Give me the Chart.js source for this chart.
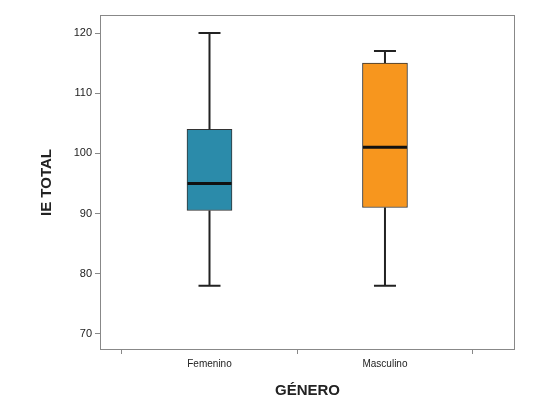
<!DOCTYPE html>
<html><head><meta charset="utf-8">
<script src="https://cdn.jsdelivr.net/npm/chart.js@4"></script>
<style>html,body{margin:0;padding:0;background:#fff}#w{width:541px;height:407px}</style>
</head><body><div id="w"><canvas id="c"></canvas></div>
<script>
const categories = ['Femenino', 'Masculino'];
const mins = [78, 78];
const q1s = [90.5, 91];
const medians = [95, 101];
const q3s = [104, 115];
const maxs = [120, 117];
const colors = ['#2B8BAA', '#F7961E'];
const yTicks = [70, 80, 90, 100, 110, 120];

const boxPlugin = {
  id: 'boxExtras',
  afterDatasetsDraw(chart) {
    const ctx = chart.ctx, x = chart.scales.x, y = chart.scales.y;
    ctx.save();
    categories.forEach((c, i) => {
      const cx = x.getPixelForValue(i);
      ctx.strokeStyle = '#222';
      ctx.lineWidth = 2;
      ctx.beginPath();
      ctx.moveTo(cx, y.getPixelForValue(q3s[i])); ctx.lineTo(cx, y.getPixelForValue(maxs[i]));
      ctx.moveTo(cx, y.getPixelForValue(q1s[i])); ctx.lineTo(cx, y.getPixelForValue(mins[i]));
      ctx.moveTo(cx - 11, y.getPixelForValue(maxs[i])); ctx.lineTo(cx + 11, y.getPixelForValue(maxs[i]));
      ctx.moveTo(cx - 11, y.getPixelForValue(mins[i])); ctx.lineTo(cx + 11, y.getPixelForValue(mins[i]));
      ctx.stroke();
      ctx.lineWidth = 3; ctx.strokeStyle = '#111';
      ctx.beginPath();
      ctx.moveTo(cx - 22, y.getPixelForValue(medians[i])); ctx.lineTo(cx + 22, y.getPixelForValue(medians[i]));
      ctx.stroke();
    });
    const a = chart.chartArea;
    ctx.lineWidth = 1; ctx.strokeStyle = '#888';
    ctx.strokeRect(a.left + 0.5, a.top + 0.5, a.right - a.left - 1, a.bottom - a.top - 1);
    ctx.restore();
  }
};

new Chart(document.getElementById('c'), {
  type: 'bar',
  data: {
    datasets: [{
      data: categories.map((c, i) => ({ x: i, y: [q1s[i], q3s[i]] })),
      backgroundColor: colors,
      borderColor: '#333',
      borderWidth: 1,
      borderSkipped: false,
      barThickness: 45
    }]
  },
  plugins: [boxPlugin],
  options: {
    responsive: true, maintainAspectRatio: false, animation: false,
    layout: { padding: { left: 38, right: 26, top: 15, bottom: 3 } },
    plugins: { legend: { display: false }, tooltip: { enabled: false } },
    scales: {
      x: {
        type: 'linear', min: -0.624, max: 1.741, offset: false,
        afterBuildTicks: s => { s.ticks = categories.map((c, i) => ({ value: i })); },
        afterFit: s => { s.height = 54; },
        ticks: { callback: v => categories[v], color: '#222', font: { family: 'Liberation Sans', size: 10 }, padding: 4 },
        grid: { display: true, drawOnChartArea: false, drawTicks: true, tickLength: 4, color: '#888' },
        border: { display: false },
        title: { display: true, text: 'GÉNERO', color: '#222', font: { family: 'Liberation Sans', size: 15, weight: 'bold' }, padding: { top: 12 } }
      },
      y: {
        min: 67.3, max: 123,
        afterBuildTicks: s => { s.ticks = yTicks.map(v => ({ value: v })); },
        afterFit: s => { s.width = 62; },
        ticks: { color: '#222', font: { family: 'Liberation Sans', size: 11 }, padding: 3 },
        grid: { display: true, drawOnChartArea: false, drawTicks: true, tickLength: 5, color: '#888' },
        border: { display: false },
        title: { display: true, text: 'IE TOTAL', color: '#222', font: { family: 'Liberation Sans', size: 15, weight: 'bold' }, padding: 0 }
      }
    }
  }
});
</script></body></html>
